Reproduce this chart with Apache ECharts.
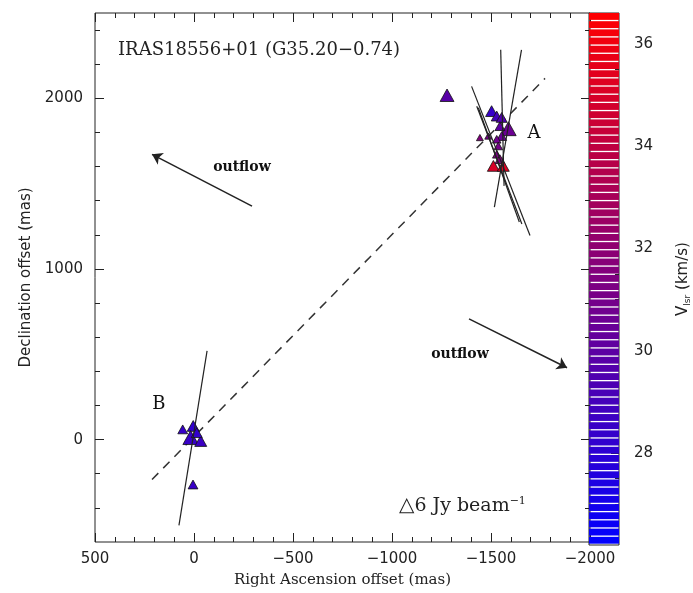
<!DOCTYPE html>
<html>
<head>
<meta charset="utf-8">
<script src="https://cdn.jsdelivr.net/npm/echarts@6/dist/echarts.min.js"></script>
<style>
  html, body { margin: 0; padding: 0; background: #fff; }
  #main { width: 693px; height: 593px; }
</style>
</head>
<body>
<div id="main"></div>
<script>
// maser spots: RA offset (mas), Dec offset (mas), Vlsr (km/s), peak flux (Jy/beam)
var spotRA   = [57, 4, 17, -34, -14, 5, -1278, -1503, -1529, -1554, -1588, -1545, -1554, -1529, -1537, -1529, -1545, -1512, -1562, -1444, -1486];
var spotDec  = [60, 80, 12, -8, 41, -263, 2018, 1925, 1896, 1888, 1822, 1837, 1779, 1760, 1721, 1672, 1643, 1604, 1604, 1770, 1779];
var spotVlsr = [28.4, 28.2, 28.5, 28.6, 28.3, 28.5, 29.8, 28.4, 29.0, 29.5, 30.6, 30.0, 30.5, 30.8, 31.0, 31.2, 31.5, 35.0, 35.3, 31.5, 31.0];
var spotFlux = [4, 6, 10, 6, 5, 4, 8, 6, 5, 5, 10, 4, 4, 3, 3, 3, 4, 6, 6, 2, 2];

// polarization vectors [ra1, dec1, ra2, dec2]
var vectors = [
    [76, -503, -66, 520],
    [-1549, 2284, -1566, 1487],
    [-1654, 2284, -1517, 1362],
    [-1402, 2070, -1697, 1196],
    [-1428, 1954, -1656, 1264],
    [-1436, 1945, -1643, 1275]
];
// dashed line joining A and B
var axisLine = [[212, -234], [-1773, 2117]];
// outflow arrows (tail -> head)
var outflows = [
    [-293, 1368, 212, 1672],
    [-1389, 708, -1884, 421]
];
// text labels in the plot
var noteText = ['outflow', 'outflow', 'A', 'B'];
var noteRA   = [-242, -1343, -1717, 177];
var noteDec  = [1597, 501, 1795, 204];

// ticks
var decMajor   = [0, 1000, 2000];
var decMinor   = [-400, -200, 200, 400, 600, 800, 1200, 1400, 1600, 1800, 2200, 2400];
var vMajor     = [28, 30, 32, 34, 36];
var vMinor     = [26.5, 27, 27.5, 28.5, 29, 29.5, 30.5, 31, 31.5, 32.5, 33, 33.5, 34.5, 35, 35.5, 36.5];
var vMin = 26.2, vMax = 36.6, vStep = 0.16;

function colorOf(v) {
    var t = (v - vMin) / (vMax - vMin);
    t = Math.max(0, Math.min(1, t));
    var r = Math.round(255 * t), b = Math.round(255 * (1 - t));
    return 'rgb(' + r + ',0,' + b + ')';
}
function fmt(v) { return v < 0 ? '\u2212' + (-v) : '' + v; }

var barLevels = [];
for (var lv = vMin; lv < vMax - 1e-6; lv += vStep) barLevels.push([0, +lv.toFixed(3)]);

var spots = spotRA.map(function(r, i) { return [r, spotDec[i], spotVlsr[i], spotFlux[i]]; });
var notes = noteText.map(function(t, i) {
    return {
        name: t, value: [noteRA[i], noteDec[i]],
        // outflow a bit bold, A / B bigger
        label: t === 'outflow' ? { fontSize: 14, fontWeight: 'bold' } : { fontSize: 18 }
    };
});

var myChart = echarts.init(document.getElementById('main'));
var tickFont = { fontFamily: 'DejaVu Sans', fontSize: 15, color: '#222' };
var black = { color: '#222', width: 1 };

function decAxis(pos, values, len, labels) {
    return {
        type: 'value', gridIndex: 0, position: pos, min: -600, max: 2500,
        axisLine: { show: false, onZero: false },
        splitLine: { show: false },
        axisTick: { show: true, inside: true, length: len, lineStyle: black, customValues: values },
        axisLabel: labels ? Object.assign({ show: true, margin: 12, customValues: values, formatter: fmt }, tickFont) : { show: false }
    };
}

var option = {
    backgroundColor: '#fff',
    animation: false,
    title: {
        text: 'IRAS18556+01 (G35.20\u22120.74)',
        left: 113, top: 36,
        textStyle: { fontFamily: 'DejaVu Serif', fontSize: 18, fontWeight: 'normal', color: '#222' }
    },
    grid: [
        { left: 95, right: 103, top: 13, bottom: 48, show: true, borderColor: '#222', borderWidth: 1 },
        { left: 589, width: 32, top: 13, bottom: 48, show: true, borderColor: '#222', borderWidth: 1 }
    ],
    xAxis: [
        {
            type: 'value', gridIndex: 0, position: 'bottom', inverse: true,
            min: -2000, max: 500, interval: 500,
            name: 'Right Ascension offset (mas)', nameLocation: 'middle', nameGap: 31,
            nameTextStyle: { fontFamily: 'DejaVu Serif', fontSize: 15, color: '#222' },
            axisLine: { show: false, onZero: false }, splitLine: { show: false },
            axisTick: { inside: true, length: 9, lineStyle: black },
            minorTick: { show: true, splitNumber: 5, length: 5, lineStyle: black },
            axisLabel: Object.assign({ margin: 10, formatter: fmt }, tickFont)
        },
        {
            type: 'value', gridIndex: 0, position: 'top', inverse: true,
            min: -2000, max: 500, interval: 500,
            axisLine: { show: false, onZero: false }, splitLine: { show: false },
            axisTick: { inside: true, length: 9, lineStyle: black },
            minorTick: { show: true, splitNumber: 5, length: 5, lineStyle: black },
            axisLabel: { show: false }
        },
        { type: 'value', gridIndex: 1, min: 0, max: 1, show: false }
    ],
    yAxis: [
        Object.assign(decAxis('left', decMajor, 9, true), {
            name: 'Declination offset (mas)', nameLocation: 'middle', nameGap: 58,
            nameTextStyle: { fontFamily: 'DejaVu Sans', fontSize: 15, color: '#222' }
        }),
        decAxis('left', decMinor, 5, false),
        decAxis('right', decMajor, 9, false),
        decAxis('right', decMinor, 5, false),
        {
            type: 'value', gridIndex: 1, position: 'right', min: vMin, max: vMax,
            name: '{v|V}{s|lsr}{v| (km/s)}', nameLocation: 'middle', nameGap: 56, nameRotate: 90,
            nameTextStyle: {
                rich: {
                    v: { fontFamily: 'DejaVu Sans', fontSize: 15, color: '#222' },
                    s: { fontFamily: 'DejaVu Sans', fontSize: 9, color: '#222', verticalAlign: 'bottom', padding: [8, 0, 0, 0] }
                }
            },
            axisLine: { show: false, onZero: false }, splitLine: { show: false },
            axisTick: { inside: true, length: 8, lineStyle: black, customValues: vMajor },
            axisLabel: Object.assign({ margin: 15, customValues: vMajor }, tickFont)
        },
        {
            type: 'value', gridIndex: 1, position: 'right', min: vMin, max: vMax,
            axisLine: { show: false, onZero: false }, splitLine: { show: false },
            axisTick: { inside: true, length: 4, lineStyle: black, customValues: vMinor },
            axisLabel: { show: false }
        }
    ],
    graphic: [
        {
            type: 'text', left: 399, top: 496,
            style: {
                text: '{t|\u25B3}6 Jy beam{s|\u22121}',
                rich: {
                    t: { fontFamily: 'DejaVu Sans', fontSize: 20, fill: '#222' },
                    s: { fontFamily: 'DejaVu Serif', fontSize: 11, fill: '#222', verticalAlign: 'top', padding: [0, 0, 9, 0] }
                },
                font: '19px "DejaVu Serif"', fill: '#222'
            }
        }
    ],
    series: [
        {
            type: 'line', xAxisIndex: 0, yAxisIndex: 0, data: axisLine,
            symbol: 'none', z: 2,
            lineStyle: { color: '#333', width: 1.5, type: [9, 7] }
        },
        {
            type: 'scatter', xAxisIndex: 0, yAxisIndex: 0, data: spots, z: 3,
            symbol: 'triangle',
            symbolSize: function(val) {
                var w = 12 * Math.sqrt(val[3] / 6);
                return [w, w * 0.9];
            },
            itemStyle: {
                opacity: 1,
                color: function(p) { return colorOf(p.data[2]); },
                borderColor: '#111', borderWidth: 0.8
            }
        },
        {
            type: 'lines', coordinateSystem: 'cartesian2d', xAxisIndex: 0, yAxisIndex: 0, z: 4,
            data: vectors.map(function(s) { return { coords: [[s[0], s[1]], [s[2], s[3]]] }; }),
            lineStyle: { color: '#222', width: 1.2, opacity: 1 }
        },
        {
            type: 'lines', coordinateSystem: 'cartesian2d', xAxisIndex: 0, yAxisIndex: 0, z: 4,
            symbol: ['none', 'arrow'], symbolSize: 10,
            data: outflows.map(function(s) { return { coords: [[s[0], s[1]], [s[2], s[3]]] }; }),
            lineStyle: { color: '#222', width: 1.5, opacity: 1 }
        },
        {
            type: 'scatter', xAxisIndex: 0, yAxisIndex: 0, data: notes, symbolSize: 2, z: 5,
            itemStyle: { color: 'rgba(0,0,0,0)' },
            label: {
                show: true, position: 'inside', formatter: '{b}',
                fontFamily: 'DejaVu Serif', color: '#111', opacity: 1, textBorderWidth: 0
            }
        },
        {
            type: 'custom', xAxisIndex: 2, yAxisIndex: 4, data: barLevels,
            renderItem: function(params, api) {
                var v = api.value(1);
                var p0 = api.coord([0, v]);
                var p1 = api.coord([1, v + vStep]);
                return {
                    type: 'rect',
                    shape: { x: p0[0], y: p1[1], width: p1[0] - p0[0], height: p0[1] - p1[1] - 1.3 },
                    style: { fill: colorOf(v + vStep / 2) }
                };
            }
        }
    ]
};
myChart.setOption(option);
</script>
</body>
</html>
